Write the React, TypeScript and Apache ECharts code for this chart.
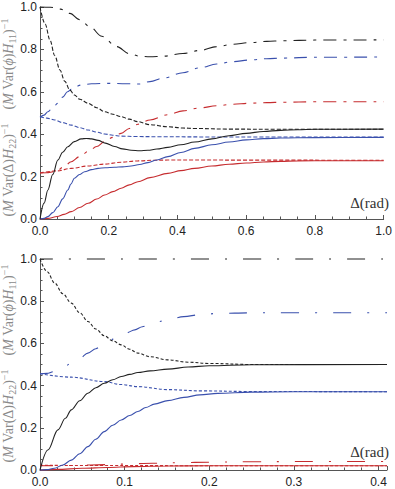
import React, { useEffect, useRef } from "react";
import * as echarts from "echarts";

// ---------- Top panel (Δ from 0 to 1) ----------
const topBlackSolid = [[0,0],[0.012,0.075],[0.023,0.137],[0.037,0.21],[0.052,0.278],[0.066,0.315],[0.081,0.341],[0.1,0.365],[0.12,0.378],[0.135,0.38],[0.15,0.378],[0.169,0.371],[0.19,0.358],[0.217,0.342],[0.24,0.331],[0.265,0.324],[0.29,0.322],[0.314,0.324],[0.34,0.33],[0.372,0.338],[0.41,0.35],[0.45,0.363],[0.5,0.378],[0.55,0.393],[0.6,0.404],[0.65,0.413],[0.7,0.418],[0.75,0.421],[0.8,0.423],[1.0,0.424]];
const topBlackDashed = [[0,1.0],[0.015,0.92],[0.029,0.844],[0.043,0.77],[0.058,0.703],[0.072,0.65],[0.087,0.608],[0.1,0.585],[0.116,0.565],[0.14,0.546],[0.165,0.525],[0.188,0.506],[0.212,0.494],[0.236,0.483],[0.26,0.471],[0.285,0.459],[0.32,0.445],[0.372,0.435],[0.416,0.429],[0.45,0.427],[0.55,0.424],[0.7,0.423],[1.0,0.423]];
const topBlackDashDot = [[0,1.0],[0.03,0.999],[0.06,0.99],[0.087,0.97],[0.116,0.94],[0.145,0.907],[0.18,0.862],[0.223,0.813],[0.26,0.78],[0.29,0.768],[0.32,0.765],[0.36,0.768],[0.416,0.781],[0.465,0.795],[0.514,0.813],[0.56,0.824],[0.61,0.832],[0.66,0.838],[0.707,0.841],[0.8,0.844],[1.0,0.845]];
const topBlueSolid = [[0,0],[0.012,0.003],[0.023,0.011],[0.037,0.03],[0.052,0.058],[0.066,0.095],[0.081,0.137],[0.09,0.165],[0.1,0.192],[0.115,0.21],[0.13,0.223],[0.15,0.233],[0.169,0.239],[0.19,0.242],[0.217,0.244],[0.24,0.246],[0.265,0.25],[0.29,0.257],[0.314,0.266],[0.34,0.278],[0.372,0.294],[0.41,0.314],[0.45,0.333],[0.5,0.35],[0.55,0.363],[0.6,0.373],[0.65,0.379],[0.7,0.382],[0.8,0.384],[1.0,0.385]];
const topBlueDashed = [[0,0.483],[0.02,0.476],[0.043,0.467],[0.065,0.455],[0.091,0.443],[0.115,0.431],[0.14,0.42],[0.165,0.41],[0.188,0.401],[0.212,0.395],[0.236,0.391],[0.28,0.389],[0.35,0.388],[0.5,0.387],[1.0,0.386]];
const topBlueDashDot = [[0,0.48],[0.012,0.49],[0.023,0.506],[0.037,0.525],[0.052,0.546],[0.066,0.575],[0.08,0.6],[0.091,0.612],[0.1,0.622],[0.12,0.632],[0.15,0.638],[0.2,0.64],[0.25,0.638],[0.29,0.637],[0.32,0.648],[0.36,0.665],[0.416,0.69],[0.465,0.713],[0.514,0.731],[0.56,0.742],[0.61,0.75],[0.66,0.756],[0.707,0.759],[0.8,0.763],[1.0,0.764]];
const topRedSolid = [[0,0],[0.023,0.003],[0.05,0.012],[0.07,0.022],[0.091,0.035],[0.115,0.054],[0.14,0.074],[0.165,0.094],[0.188,0.113],[0.212,0.129],[0.236,0.145],[0.26,0.161],[0.285,0.176],[0.32,0.195],[0.372,0.215],[0.41,0.228],[0.45,0.239],[0.5,0.25],[0.55,0.258],[0.6,0.264],[0.65,0.269],[0.7,0.272],[0.75,0.274],[0.85,0.275],[1.0,0.275]];
const topRedDashed = [[0,0.217],[0.05,0.227],[0.091,0.239],[0.14,0.25],[0.188,0.259],[0.236,0.268],[0.285,0.274],[0.33,0.277],[0.372,0.278],[0.45,0.278],[1.0,0.277]];
const topRedDashDot = [[0,0.217],[0.02,0.218],[0.035,0.222],[0.052,0.231],[0.07,0.248],[0.091,0.27],[0.115,0.294],[0.14,0.318],[0.165,0.342],[0.188,0.365],[0.212,0.385],[0.236,0.404],[0.26,0.427],[0.285,0.447],[0.32,0.467],[0.372,0.492],[0.416,0.51],[0.465,0.524],[0.514,0.534],[0.56,0.541],[0.61,0.546],[0.66,0.549],[0.707,0.551],[0.8,0.553],[1.0,0.553]];

// ---------- Bottom panel (Δ from 0 to 0.41) ----------
const botBlackSolid = [[0,0],[0.0094,0.095],[0.0212,0.19],[0.03,0.245],[0.037,0.285],[0.047,0.328],[0.0566,0.364],[0.066,0.39],[0.076,0.411],[0.086,0.428],[0.096,0.443],[0.106,0.453],[0.1156,0.462],[0.13,0.47],[0.151,0.478],[0.175,0.488],[0.2,0.494],[0.25,0.499],[0.41,0.5]];
const botBlackDashed = [[0,1],[0.0085,0.94],[0.0173,0.886],[0.027,0.835],[0.037,0.791],[0.047,0.745],[0.0566,0.704],[0.066,0.668],[0.076,0.636],[0.086,0.612],[0.096,0.593],[0.106,0.572],[0.1156,0.554],[0.13,0.537],[0.151,0.522],[0.175,0.511],[0.2,0.505],[0.25,0.5],[0.41,0.5]];
const botBlackDashDot = [[0,1],[0.41,1]];
const botBlueSolid = [[0,0],[0.008,0.002],[0.017,0.008],[0.027,0.024],[0.037,0.047],[0.047,0.077],[0.0566,0.111],[0.066,0.146],[0.076,0.182],[0.086,0.212],[0.096,0.237],[0.106,0.258],[0.1156,0.277],[0.125,0.296],[0.135,0.312],[0.151,0.329],[0.17,0.344],[0.189,0.356],[0.21,0.363],[0.25,0.369],[0.3,0.371],[0.41,0.371]];
const botBlueDashed = [[0,0.456],[0.037,0.44],[0.076,0.419],[0.096,0.405],[0.1156,0.395],[0.151,0.381],[0.19,0.375],[0.25,0.372],[0.41,0.371]];
const botBlueDashDot = [[0,0.456],[0.008,0.458],[0.017,0.467],[0.027,0.485],[0.037,0.506],[0.047,0.53],[0.0566,0.554],[0.066,0.575],[0.074,0.593],[0.083,0.615],[0.092,0.636],[0.102,0.65],[0.112,0.664],[0.121,0.679],[0.131,0.693],[0.151,0.712],[0.17,0.727],[0.189,0.736],[0.21,0.742],[0.25,0.745],[0.41,0.745]];
const botRedSolid = [[0,0],[0.02,0.003],[0.05,0.008],[0.08,0.012],[0.11,0.016],[0.15,0.019],[0.2,0.02],[0.41,0.02]];
const botRedDashed = [[0,0.022],[0.1,0.021],[0.2,0.02],[0.41,0.02]];
const botRedDashDot = [[0,0.02],[0.03,0.021],[0.06,0.024],[0.1,0.028],[0.133,0.032],[0.166,0.035],[0.2,0.037],[0.25,0.039],[0.3,0.04],[0.41,0.04]];

// ---------- Axis / label texts ----------
const yLabelUpper = "({i|M} Var({i|ϕ}){i|H}{sub|11}){sup|−1}";
const yLabelLower = "({i|M} Var(Δ){i|H}{sub|22}){sup|−1}";
const xLabelText = "Δ(rad)";

const BLACK = "#222222";
const BLUE = "#3a50ad";
const RED = "#c62c2f";
const AXIS = "#555555";

export default function App() {
  const ref = useRef<HTMLDivElement>(null);
  useEffect(() => {
    if (!ref.current) return;
    const chart = echarts.init(ref.current, null, { renderer: "svg" });

    const topDD = [13, 7, 3, 7];
    const topDash = [4, 2];
    const botDD = [18, 16, 2, 16];
    const botDash = [3, 2];

    const mk = (data: number[][], color: string, type: any, idx: number, dashOffset = 0) => ({
      type: "line",
      data,
      xAxisIndex: idx,
      yAxisIndex: idx,
      showSymbol: false,
      symbol: "none",
      smooth: 0.35,
      smoothMonotone: "x",
      clip: false,
      silent: true,
      lineStyle: { color, width: 1.1, type, dashOffset },
    });

    const fmt = (v: number) => {
      if (Math.abs(v * 10 - Math.round(v * 10)) > 1e-6) return "";
      return v.toFixed(1);
    };

    const axisCommon = (extra: any, margin: number) => ({
      type: "value",
      axisLine: { show: true, onZero: false, lineStyle: { color: AXIS, width: 1 } },
      axisTick: { show: true, inside: true, length: 4, lineStyle: { color: AXIS } },
      splitLine: { show: false },
      minorSplitLine: { show: false },
      axisLabel: {
        color: "#222",
        fontSize: 12,
        fontFamily: "Liberation Sans, Arial, sans-serif",
        margin,
        formatter: fmt,
      },
      ...extra,
    });

    const rich = {
      i: { fontStyle: "italic", fontSize: 14, fontFamily: "Liberation Serif, serif", color: "#8a8a8a", lineHeight: 18 },
      sub: { fontSize: 10, fontFamily: "Liberation Serif, serif", color: "#8a8a8a", verticalAlign: "bottom", lineHeight: 18, padding: [6, 0, 0, 0] },
      sup: { fontSize: 10, fontFamily: "Liberation Serif, serif", color: "#8a8a8a", verticalAlign: "top", lineHeight: 18 },
    };

    const yLabel = (text: string, cy: number) => ({
      type: "text",
      x: 8,
      y: cy,
      rotation: Math.PI / 2,
      style: {
        text,
        rich,
        fill: "#8a8a8a",
        fontSize: 14,
        lineHeight: 18,
        fontFamily: "Liberation Serif, serif",
        align: "center",
        verticalAlign: "middle",
      },
      silent: true,
    });

    const xLabel = (cy: number) => ({
      type: "text",
      x: 389,
      y: cy,
      style: {
        text: xLabelText,
        fill: "#333",
        fontSize: 15,
        fontFamily: "Liberation Serif, serif",
        align: "right",
        verticalAlign: "middle",
      },
      silent: true,
    });

    const minor = (n: number) => ({ show: true, splitNumber: n, length: 2.5, lineStyle: { color: AXIS } });

    chart.setOption({
      animation: false,
      grid: [
        { left: 40, top: 7, width: 344, height: 212 },
        { left: 40, top: 259, width: 347, height: 211 },
      ],
      xAxis: [
        axisCommon({ gridIndex: 0, min: 0, max: 1, interval: 0.2, minorTick: minor(4) }, 6),
        axisCommon({ gridIndex: 1, min: 0, max: 0.41, interval: 0.1, minorTick: minor(5) }, 6),
      ],
      yAxis: [
        axisCommon({ gridIndex: 0, min: 0, max: 1, interval: 0.2, minorTick: minor(4) }, 3),
        axisCommon({ gridIndex: 1, min: 0, max: 1, interval: 0.2, minorTick: minor(4) }, 3),
      ],
      series: [
        mk(topRedSolid, RED, "solid", 0),
        mk(topRedDashed, RED, topDash, 0),
        mk(topRedDashDot, RED, topDD, 0),
        mk(topBlueSolid, BLUE, "solid", 0),
        mk(topBlueDashed, BLUE, topDash, 0),
        mk(topBlueDashDot, BLUE, topDD, 0),
        mk(topBlackSolid, BLACK, "solid", 0),
        mk(topBlackDashed, BLACK, topDash, 0),
        mk(topBlackDashDot, BLACK, topDD, 0),
        mk(botRedSolid, RED, "solid", 1),
        mk(botRedDashed, RED, botDash, 1),
        mk(botRedDashDot, RED, botDD, 1, 5),
        mk(botBlueSolid, BLUE, "solid", 1),
        mk(botBlueDashed, BLUE, botDash, 1),
        mk(botBlueDashDot, BLUE, botDD, 1, 5),
        mk(botBlackSolid, BLACK, "solid", 1),
        mk(botBlackDashed, BLACK, botDash, 1),
        mk(botBlackDashDot, BLACK, botDD, 1, 5),
      ],
      graphic: [
        yLabel(yLabelUpper, 64),
        yLabel(yLabelLower, 170),
        yLabel(yLabelUpper, 310),
        yLabel(yLabelLower, 416),
        xLabel(203),
        xLabel(452),
      ],
    });
    return () => chart.dispose();
  }, []);
  return (
    <div
      ref={ref}
      style={{ position: "fixed", left: 0, top: 0, width: 395, height: 489, background: "#fff" }}
    />
  );
}
